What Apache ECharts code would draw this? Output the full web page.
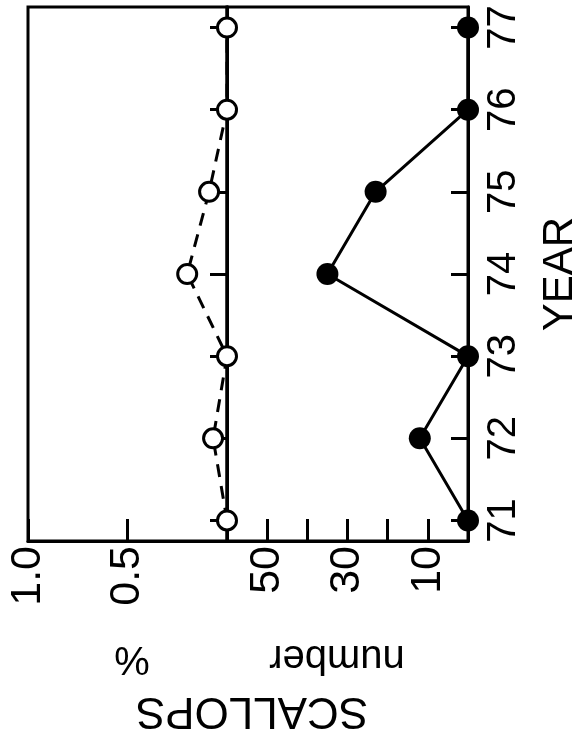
<!DOCTYPE html>
<html><head><meta charset="utf-8">
<script src="https://cdn.jsdelivr.net/npm/echarts@6/dist/echarts.min.js"></script>
<style>html,body{margin:0;padding:0;background:#fff}#c{width:585px;height:740px}</style>
</head><body><div id="c"></div>
<script>
// ---- data ----
const years = [71, 72, 73, 74, 75, 76, 77];
const pctValues = [0, 0.07, 0, 0.2, 0.09, 0, 0];        // SCALLOPS %
const numberValues = [0, 12, 0, 35, 23, 0, 0];          // SCALLOPS number
const pctTickLabels = [0.5, 1.0];
const numberTickLabels = [10, 30, 50];
const yearAxisTitle = 'YEAR';
const pctAxisTitle = '%';
const numberAxisTitle = 'number';
const mainTitle = 'SCALLOPS';

// ---- chart ----
const FONT = 'Liberation Sans';
const chart = echarts.init(document.getElementById('c'), null, {renderer: 'canvas'});
const black = '#000';

function yearAxis(gridIndex, withLabels) {
  const ax = {
    gridIndex: gridIndex, type: 'value', min: 70.75, max: 77.25, position: 'right',
    axisLine: {show: true, lineStyle: {color: black, width: 3}},
    axisTick: {show: true, inside: true, length: 17, lineStyle: {color: black, width: 3}, customValues: years},
    axisLabel: {show: false},
    splitLine: {show: false}
  };
  if (withLabels) {
    ax.axisLabel = {show: true, rotate: 90, margin: 16, fontFamily: FONT, fontSize: 40, color: black, customValues: years};
    ax.name = yearAxisTitle;
    ax.nameLocation = 'middle';
    ax.nameRotate = 90;
    ax.nameGap = 71;
    ax.nameMoveOverlap = false;
    ax.nameTextStyle = {fontFamily: FONT, fontSize: 42, color: black};
  }
  return ax;
}

function valueAxis(gridIndex, max, interval, labels, fmt) {
  return {
    gridIndex: gridIndex, type: 'value', min: 0, max: max, interval: interval, inverse: true, position: 'bottom',
    axisLine: {show: true, lineStyle: {color: black, width: 3}},
    axisTick: {show: true, inside: true, length: 22, lineStyle: {color: black, width: 3}},
    axisLabel: {show: true, rotate: 90, margin: 5, fontFamily: FONT, fontSize: 43, color: black,
      customValues: labels, formatter: fmt},
    splitLine: {show: false}
  };
}

const option = {
  animation: false,
  backgroundColor: '#fff',
  grid: [
    {left: 28, top: 7, width: 199, height: 534, show: true, borderColor: black, borderWidth: 3, backgroundColor: 'transparent'},
    {left: 227, top: 7, width: 241, height: 534, show: true, borderColor: black, borderWidth: 3, backgroundColor: 'transparent'}
  ],
  xAxis: [
    valueAxis(0, 1, 0.5, pctTickLabels, v => Number(v).toFixed(1)),
    valueAxis(1, 60, 10, numberTickLabels, v => String(v))
  ],
  yAxis: [yearAxis(0, false), yearAxis(1, true)],
  series: [
    {
      name: '%', type: 'line', xAxisIndex: 0, yAxisIndex: 0, clip: false, z: 4,
      data: years.map((y, i) => [pctValues[i], y]),
      symbol: 'circle', symbolSize: 19, showSymbol: true,
      itemStyle: {color: '#fff', borderColor: black, borderWidth: 3},
      lineStyle: {color: black, width: 3, type: [13, 9]}
    },
    {
      name: 'number', type: 'line', xAxisIndex: 1, yAxisIndex: 1, clip: false, z: 4,
      data: years.map((y, i) => [numberValues[i], y]),
      symbol: 'circle', symbolSize: 22, showSymbol: true,
      itemStyle: {color: black},
      lineStyle: {color: black, width: 3}
    }
  ],
  graphic: [
    {type: 'text', x: 132, y: 658, rotation: Math.PI,
     style: {text: pctAxisTitle, font: '40px "Liberation Sans"', fill: black, textAlign: 'center', textVerticalAlign: 'middle'}},
    {type: 'text', x: 337, y: 657, rotation: Math.PI,
     style: {text: numberAxisTitle, font: '40px "Liberation Sans"', fill: black, textAlign: 'center', textVerticalAlign: 'middle'}},
    {type: 'text', x: 252, y: 710, rotation: Math.PI,
     style: {text: mainTitle, font: '44px "Liberation Sans"', fill: black, textAlign: 'center', textVerticalAlign: 'middle'}}
  ]
};
chart.setOption(option);
</script>
</body></html>
